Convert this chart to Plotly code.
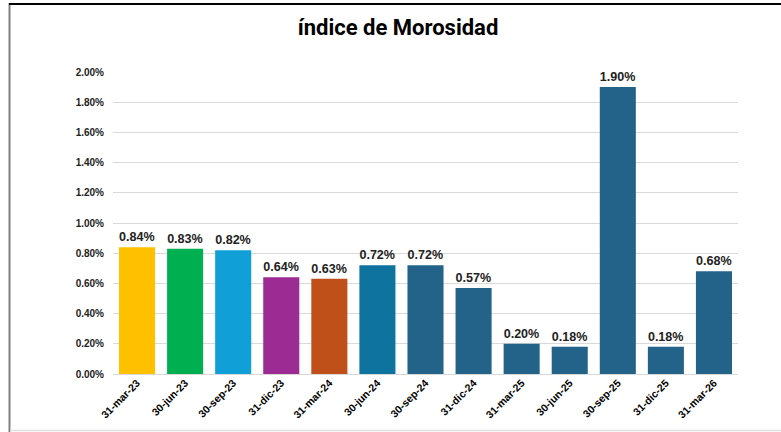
import plotly.graph_objects as go

categories = ["31-mar-23", "30-jun-23", "30-sep-23", "31-dic-23", "31-mar-24", "30-jun-24",
              "30-sep-24", "31-dic-24", "31-mar-25", "30-jun-25", "30-sep-25", "31-dic-25", "31-mar-26"]
values = [0.0084, 0.0083, 0.0082, 0.0064, 0.0063, 0.0072,
          0.0072, 0.0057, 0.0020, 0.0018, 0.0190, 0.0018, 0.0068]
colors = ["#FFC000", "#00B050", "#119FD8", "#9C2B93", "#C0501A", "#0F73A0",
          "#23638A", "#23638A", "#23638A", "#23638A", "#23638A", "#23638A", "#23638A"]
y_ticks = [0.0, 0.002, 0.004, 0.006, 0.008, 0.010, 0.012, 0.014, 0.016, 0.018, 0.020]

W, H = 781, 432
ML, MR, MT, MB = 113, 43, 72, 58
PW, PH = W - ML - MR, H - MT - MB

def px_x(p):
    return (p - ML) / PW

def px_y(p):
    return (H - MB - p) / PH

fig = go.Figure(go.Bar(
    x=categories, y=values,
    marker=dict(color=colors, line=dict(width=0)),
    texttemplate="%{y:.2%}", textposition="outside",
    textfont=dict(family="Liberation Sans", size=13, color="#222222", weight="bold"),
    cliponaxis=False,
))

fig.update_layout(
    width=W, height=H,
    margin=dict(l=ML, r=MR, t=MT, b=MB),
    paper_bgcolor="white", plot_bgcolor="white",
    bargap=0.25,
    showlegend=False,
    title=dict(text="índice de Morosidad", x=398 / W, xanchor="center",
               y=1 - 27 / H, yanchor="middle", yref="container",
               font=dict(family="Liberation Sans Narrow, Roboto", size=22, color="black", weight="bold")),
    xaxis=dict(tickangle=-45, tickfont=dict(family="Liberation Sans", size=10.5, color="black", weight="bold"),
               showgrid=False, showline=False, ticks=""),
    yaxis=dict(range=[0, 0.02], tickvals=y_ticks, tickformat=".2%",
               tickfont=dict(family="Liberation Sans", size=10, color="#222222", weight="bold"),
               showgrid=True, gridcolor="#D9D9D9", gridwidth=1,
               zeroline=True, zerolinecolor="#D9D9D9", zerolinewidth=1,
               ticklabelstandoff=8, showline=False),
    shapes=[
        dict(type="line", xref="paper", yref="paper", x0=px_x(9.5), x1=px_x(9.5), y0=px_y(3), y1=px_y(432),
             line=dict(color="#808080", width=2)),
        dict(type="rect", xref="paper", yref="paper", x0=px_x(9), x1=px_x(781), y0=px_y(3), y1=px_y(5),
             fillcolor="black", line=dict(width=0), layer="above"),
        dict(type="line", xref="paper", yref="paper", x0=px_x(10), x1=px_x(781), y0=px_y(430.5), y1=px_y(430.5),
             line=dict(color="#E0E0E0", width=1.5)),
    ],
)

fig.write_html("out.html", config={"displayModeBar": False},
               post_script="document.documentElement.style.margin='0';document.body.style.margin='0';"
                           "document.body.style.padding='0';document.body.style.overflow='hidden';"
                           "window.scrollTo(0,0);")
